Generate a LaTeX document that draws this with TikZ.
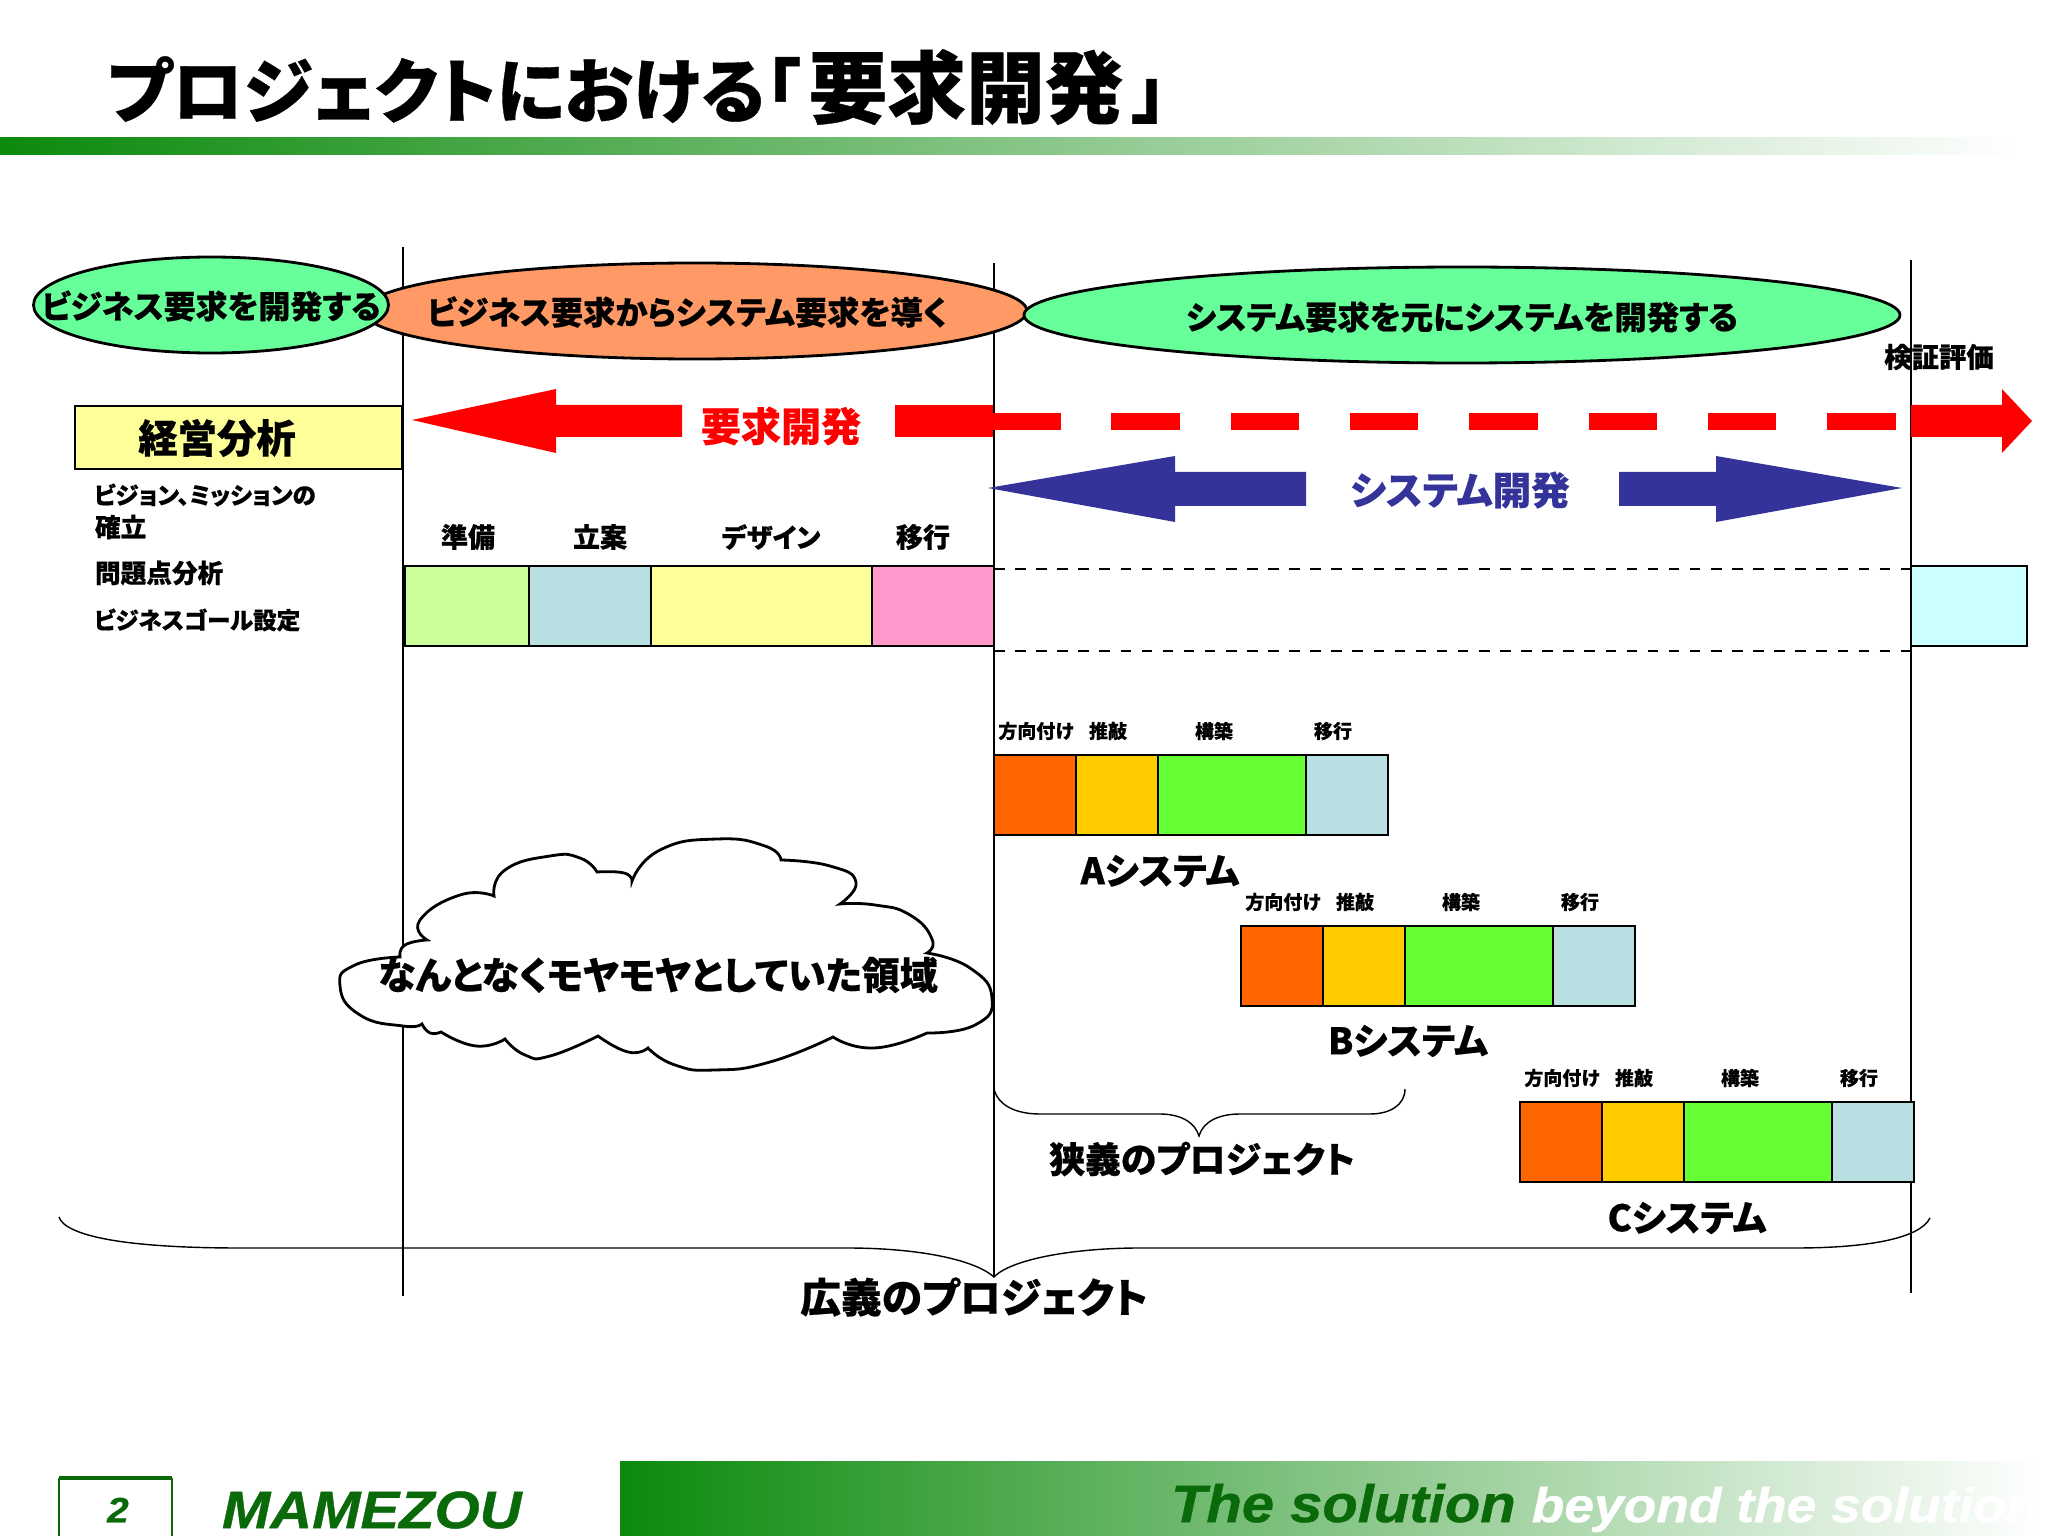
\documentclass[tikz,border=0pt]{standalone}
\usepackage{fontspec}
\setmainfont{Noto Sans CJK JP}[RawFeature={+palt}, BoldFeatures={FakeBold=0.5}]
\newfontfamily\latinbold{Liberation Sans}[FakeStretch=1.1, BoldItalicFeatures={FakeBold=0.8}]
\usetikzlibrary{shapes,arrows,positioning,fit}

\definecolor{barGreen}{HTML}{0C8A0C}
\definecolor{logoGreen}{HTML}{0A6A0A}
\definecolor{sysBlue}{HTML}{333399}
\definecolor{mintFill}{HTML}{66FF99}
\definecolor{peachFill}{HTML}{FF9966}
\definecolor{paleBlue}{HTML}{B8DFE2}
\definecolor{paleYellow}{HTML}{FFFF99}
\definecolor{paleLime}{HTML}{CCFF99}
\definecolor{palePink}{HTML}{FF99CC}
\definecolor{paleCyan}{HTML}{CCFFFF}
\definecolor{stOrange}{HTML}{FF6600}
\definecolor{stGold}{HTML}{FFCC00}
\definecolor{stGreen}{HTML}{66FF33}

\begin{document}
\begin{tikzpicture}[
    lab/.style={inner sep=0pt, outer sep=0pt, font=\fontsize{#1}{#1}\selectfont\bfseries},
    goal/.style={ellipse, draw, thick, inner sep=0pt, minimum width=#1, minimum height=0.96cm},
    seg/.style={rectangle, draw, line width=0.7pt, inner sep=0pt, outer sep=0pt, minimum height=0.8cm},
    lobe/.style={smooth, tension=0.9}
]
\useasboundingbox (0,0) rectangle (20.48,-15.36);

% Header and footer
\node[lab=20, anchor=west] (title) at (1.07,-0.87) {プロジェクトにおける「\hspace{.12em}{\fontsize{22.4}{22.4}\selectfont 要求開発}\hspace{.12em}」};
\shade[left color=barGreen, right color=white] (0,-1.38) rectangle (20.2,-1.55);
\shade[left color=barGreen, right color=white] (6.2,-14.61) rectangle (20.4,-15.36);
\node[lab=15, anchor=west] (slogan) at (11.71,-15.08) {\latinbold\itshape\textcolor{logoGreen}{The solution} {\fontsize{13.8}{13.8}\selectfont\textcolor{white}{beyond the solution}}};
\node[lab=15, text=logoGreen, anchor=west] (logo) at (2.22,-15.1) {\latinbold\itshape MAMEZOU};
\draw[logoGreen, line width=0.5pt] (0.59,-15.36) -- (0.59,-14.78) (1.72,-14.78) -- (1.72,-15.36);
\draw[logoGreen, line width=1pt] (0.59,-14.78) -- (1.72,-14.78);
\node[lab=10, text=logoGreen] (page) at (1.18,-15.1) {\latinbold\itshape 2};

% Phase separators
\coordinate (sepAt) at (4.03,-2.47);
\coordinate (sepAb) at (4.03,-12.96);
\coordinate (sepBt) at (9.94,-2.63);
\coordinate (sepBb) at (9.94,-12.77);
\coordinate (sepCt) at (19.11,-2.6);
\coordinate (sepCb) at (19.11,-12.93);
\draw (sepAt) -- (sepAb);
\draw (sepBt) -- (sepBb);
\draw (sepCt) -- (sepCb);

% Goals
\node[goal=6.64cm, fill=peachFill] (derive) at (6.95,-3.11) {};
\node[goal=3.55cm, fill=mintFill] (bizgoal) at (2.11,-3.05) {};
\node[goal=8.76cm, fill=mintFill] (sysgoal) at (14.62,-3.15) {};
\node[lab=9.1] (bizgoalT) at (2.11,-3.06) {ビジネス要求を開発する};
\node[lab=9.2] (deriveT) at (6.87,-3.12) {ビジネス要求からシステム要求を導く};
\node[lab=9.2] (sysgoalT) at (14.62,-3.17) {システム要求を元にシステムを開発する};
\node[lab=7.8] (verify) at (19.39,-3.57) {検証評価};

% Business analysis
\node[rectangle, draw, line width=0.7pt, fill=paleYellow, minimum width=3.27cm, minimum height=0.63cm, anchor=north west] (biz) at (0.74,-4.05) {};
\node[lab=11.2] (bizT) at (2.17,-4.38) {経営分析};
\node[lab=6.7, anchor=west] (biz1) at (0.94,-4.95) {ビジョン、ミッションの};
\node[lab=7.3, anchor=west] (biz2) at (0.95,-5.27) {確立};
\node[lab=7.3, anchor=west] (biz3) at (0.95,-5.73) {問題点分析};
\node[lab=6.7, anchor=west] (biz4) at (0.94,-6.2) {ビジネスゴール設定};

% Requirements arrow
\fill[red] (4.12,-4.2) -- (5.56,-3.89) -- (5.56,-4.05) -- (6.82,-4.05) -- (6.82,-4.37) -- (5.56,-4.37) -- (5.56,-4.53) -- cycle;
\node[lab=11.4, text=red] (reqT) at (7.81,-4.26) {要求開発};
\fill[red] (8.95,-4.05) rectangle (9.93,-4.37);
\coordinate (dashL) at (9.92,-4.215);
\coordinate (dashR) at (19.0,-4.215);
\draw[red, line width=0.17cm, dash pattern=on 0.685cm off 0.508cm] (dashL) -- (dashR);
\fill[red] (19.11,-4.05) -- (20.02,-4.05) -- (20.02,-3.89) -- (20.32,-4.21) -- (20.02,-4.53) -- (20.02,-4.37) -- (19.11,-4.37) -- cycle;

% System arrow
\fill[sysBlue] (9.88,-4.88) -- (11.75,-4.56) -- (11.75,-4.72) -- (13.06,-4.72) -- (13.06,-5.06) -- (11.75,-5.06) -- (11.75,-5.22) -- cycle;
\node[lab=11] (sysT) at (14.6,-4.9) {\textcolor{sysBlue}{システム開発}};
\fill[sysBlue] (19.02,-4.88) -- (17.16,-4.56) -- (17.16,-4.72) -- (16.19,-4.72) -- (16.19,-5.06) -- (17.16,-5.06) -- (17.16,-5.22) -- cycle;

% Requirements phases
\node[seg, fill=paleLime, minimum width=1.24cm, anchor=north west] (prep) at (4.05,-5.66) {};
\node[seg, fill=paleBlue, minimum width=1.22cm, right=0cm of prep] (plan) {};
\node[seg, fill=paleYellow, minimum width=2.21cm, right=0cm of plan] (design) {};
\node[seg, fill=palePink, minimum width=1.22cm, right=0cm of design] (move) {};
\node[lab=7.7] (prepT) at (4.68,-5.37) {準備};
\node[lab=7.7] (planT) at (6,-5.37) {立案};
\node[lab=7.5] (designT) at (7.71,-5.37) {デザイン};
\node[lab=7.7] (moveT) at (9.23,-5.37) {移行};
\node[seg, fill=paleCyan, minimum width=1.16cm, anchor=north west] (eval) at (19.11,-5.66) {};
\draw[dashed, thick] ([yshift=-0.03cm]move.north east) -- ([yshift=-0.03cm]eval.north west);
\draw[dashed, thick] ([yshift=-0.05cm]move.south east) -- ([yshift=-0.05cm]eval.south west);

% A system
\node[seg, fill=stOrange, minimum width=0.82cm, anchor=north west] (a1) at (9.94,-7.55) {};
\node[seg, fill=stGold, minimum width=0.82cm, right=0cm of a1] (a2) {};
\node[seg, fill=stGreen, minimum width=1.48cm, right=0cm of a2] (a3) {};
\node[seg, fill=paleBlue, minimum width=0.82cm, right=0cm of a3] (a4) {};
\node[lab=5.4] (a1T) at (10.36,-7.31) {方向付け};
\node[lab=5.4] (a2T) at (11.08,-7.31) {推敲};
\node[lab=5.4] (a3T) at (12.14,-7.31) {構築};
\node[lab=5.4] (a4T) at (13.33,-7.31) {移行};
\node[lab=10.4] (aT) at (11.6,-8.71) {Aシステム};

% B system
\node[seg, fill=stOrange, minimum width=0.82cm, anchor=north west] (b1) at (12.41,-9.26) {};
\node[seg, fill=stGold, minimum width=0.82cm, right=0cm of b1] (b2) {};
\node[seg, fill=stGreen, minimum width=1.48cm, right=0cm of b2] (b3) {};
\node[seg, fill=paleBlue, minimum width=0.82cm, right=0cm of b3] (b4) {};
\node[lab=5.4] (b1T) at (12.83,-9.02) {方向付け};
\node[lab=5.4] (b2T) at (13.55,-9.02) {推敲};
\node[lab=5.4] (b3T) at (14.61,-9.02) {構築};
\node[lab=5.4] (b4T) at (15.8,-9.02) {移行};
\node[lab=10.4] (bT) at (14.08,-10.41) {Bシステム};

% C system
\node[seg, fill=stOrange, minimum width=0.82cm, anchor=north west] (c1) at (15.2,-11.02) {};
\node[seg, fill=stGold, minimum width=0.82cm, right=0cm of c1] (c2) {};
\node[seg, fill=stGreen, minimum width=1.48cm, right=0cm of c2] (c3) {};
\node[seg, fill=paleBlue, minimum width=0.82cm, right=0cm of c3] (c4) {};
\node[lab=5.4] (c1T) at (15.62,-10.78) {方向付け};
\node[lab=5.4] (c2T) at (16.34,-10.78) {推敲};
\node[lab=5.4] (c3T) at (17.4,-10.78) {構築};
\node[lab=5.4] (c4T) at (18.59,-10.78) {移行};
\node[lab=10.4] (cT) at (16.87,-12.18) {Cシステム};

% Cloud
\draw[fill=white, line width=0.8pt] plot[lobe] coordinates {(4,-9.57) (3.55,-9.65) (3.4,-9.86) (3.6,-10.15) (4.03,-10.26) (4.22,-10.24)}
  -- plot[lobe] coordinates {(4.22,-10.24) (4.3,-10.33) (4.41,-10.32)}
  -- plot[lobe] coordinates {(4.41,-10.32) (4.76,-10.46) (5.05,-10.39)}
  -- plot[lobe] coordinates {(5.05,-10.39) (5.25,-10.55) (5.5,-10.56) (5.98,-10.36)}
  -- plot[lobe] coordinates {(5.98,-10.36) (6.28,-10.52) (6.48,-10.48)}
  -- plot[lobe] coordinates {(6.48,-10.48) (6.75,-10.65) (7.15,-10.7) (7.7,-10.62) (8.33,-10.37)}
  -- plot[lobe] coordinates {(8.33,-10.37) (8.74,-10.48) (9.27,-10.33)}
  -- plot[lobe] coordinates {(9.27,-10.33) (9.75,-10.25) (9.92,-9.98) (9.7,-9.68) (9.27,-9.53)}
  -- plot[lobe] coordinates {(9.27,-9.53) (9.32,-9.39) (9.1,-9.15) (8.75,-9.05) (8.4,-9.04)}
  -- plot[lobe] coordinates {(8.4,-9.04) (8.56,-8.82) (8.3,-8.66) (7.81,-8.6)}
  -- plot[lobe] coordinates {(7.81,-8.6) (7.65,-8.46) (7.17,-8.39) (6.6,-8.5) (6.32,-8.81)}
  -- plot[lobe] coordinates {(6.32,-8.81) (6.24,-8.73) (5.97,-8.72)}
  -- plot[lobe] coordinates {(5.97,-8.72) (5.8,-8.58) (5.5,-8.56) (5.05,-8.7) (4.94,-8.96)}
  -- plot[lobe] coordinates {(4.94,-8.96) (4.6,-8.95) (4.2,-9.2) (4.27,-9.4)}
  -- plot[lobe] coordinates {(4.27,-9.4) (4.05,-9.45) (4,-9.57)} -- cycle;
\node[lab=10.8] (cloudT) at (6.58,-9.75) {なんとなくモヤモヤとしていた領域};

% Project braces
\coordinate (narrowTip) at (11.99,-11.36);
\coordinate (narrowL) at (9.94,-10.89);
\coordinate (narrowR) at (14.05,-10.89);
\draw (narrowL) .. controls (9.98,-11.05) and (10.15,-11.14) .. (10.4,-11.14) -- (11.6,-11.14) .. controls (11.8,-11.14) and (11.95,-11.22) .. (narrowTip) .. controls (12.03,-11.22) and (12.18,-11.14) .. (12.4,-11.14) -- (13.7,-11.14) .. controls (13.9,-11.14) and (14.05,-11.05) .. (narrowR);
\node[lab=10.2] (narrowT) at (12.02,-11.59) {狭義のプロジェクト};
\coordinate (wideTip) at (9.94,-12.77);
\coordinate (wideL) at (0.59,-12.17);
\coordinate (wideR) at (19.3,-12.18);
\draw (wideL) .. controls (0.65,-12.35) and (1.2,-12.48) .. (2.4,-12.48) -- (8.47,-12.48) .. controls (9.2,-12.48) and (9.75,-12.6) .. (wideTip) .. controls (10.1,-12.6) and (10.7,-12.48) .. (11.4,-12.48) -- (17.95,-12.48) .. controls (18.7,-12.48) and (19.2,-12.38) .. (wideR);
\node[lab=11.6] (wideT) at (9.74,-12.97) {広義のプロジェクト};

\end{tikzpicture}
\end{document}
